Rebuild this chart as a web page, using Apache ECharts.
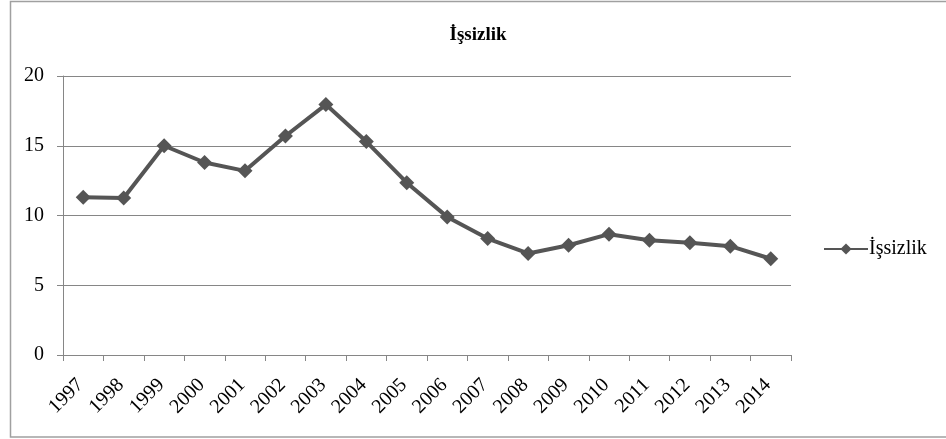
<!DOCTYPE html>
<html>
<head>
<meta charset="utf-8">
<script src="https://cdn.jsdelivr.net/npm/echarts@6/dist/echarts.min.js"></script>
<style>
html,body{margin:0;padding:0;background:#fff;}
#c{width:946px;height:439px;}
</style>
</head>
<body>
<div id="c"></div>
<script>
const title = "İşsizlik";
const seriesName = "İşsizlik";
const years = ["1997","1998","1999","2000","2001","2002","2003","2004","2005","2006","2007","2008","2009","2010","2011","2012","2013","2014"];
const values = [11.3, 11.25, 15.0, 13.8, 13.2, 15.7, 17.95, 15.3, 12.35, 9.9, 8.35, 7.28, 7.87, 8.66, 8.23, 8.05, 7.8, 6.9];
const yTicks = [0, 5, 10, 15, 20];

const chart = echarts.init(document.getElementById('c'), null, {renderer: 'canvas'});
const serif = "'Liberation Serif', 'DejaVu Serif', serif";
chart.setOption({
  backgroundColor: '#ffffff',
  animation: false,
  title: {
    text: title,
    left: 473, top: 21, textAlign: 'center',
    textStyle: {fontFamily: serif, fontSize: 19, fontWeight: 'bold', color: '#000'}
  },
  graphic: [{
    type: 'rect', shape: {x: 10.5, y: 1.5, width: 950, height: 435.5},
    style: {fill: 'none', stroke: '#a0a0a0', lineWidth: 1.5}, silent: true, z: 0
  }],
  legend: {
    left: 818, top: 234,
    itemWidth: 44, itemHeight: 14, itemGap: 2,
    textStyle: {fontFamily: serif, fontSize: 20, color: '#000', padding: [0,0,0,-4]},
    data: [seriesName]
  },
  grid: {left: 63, right: 155, top: 76, bottom: 84, containLabel: false},
  xAxis: {
    type: 'category', data: years, boundaryGap: true,
    axisLine: {lineStyle: {color: '#868686', width: 1}},
    axisTick: {show: true, length: 6, lineStyle: {color: '#868686'}},
    axisLabel: {rotate: 45, margin: 17, align: 'right', verticalAlign: 'top', lineHeight: 10, padding: [0, 9, 0, 0], fontFamily: serif, fontSize: 20, color: '#000'},
    splitLine: {show: false}
  },
  yAxis: {
    type: 'value', min: yTicks[0], max: yTicks[yTicks.length-1], interval: 5,
    axisLine: {show: true, lineStyle: {color: '#868686', width: 1}},
    axisTick: {show: true, length: 6, lineStyle: {color: '#868686'}},
    axisLabel: {margin: 19, fontFamily: serif, fontSize: 20, color: '#000'},
    splitLine: {show: true, lineStyle: {color: '#868686', width: 1}}
  },
  series: [{
    name: seriesName, type: 'line', data: values,
    symbol: 'diamond', symbolSize: 15,
    lineStyle: {color: '#555555', width: 4},
    itemStyle: {color: '#555555'}
  }]
});
</script>
</body>
</html>
